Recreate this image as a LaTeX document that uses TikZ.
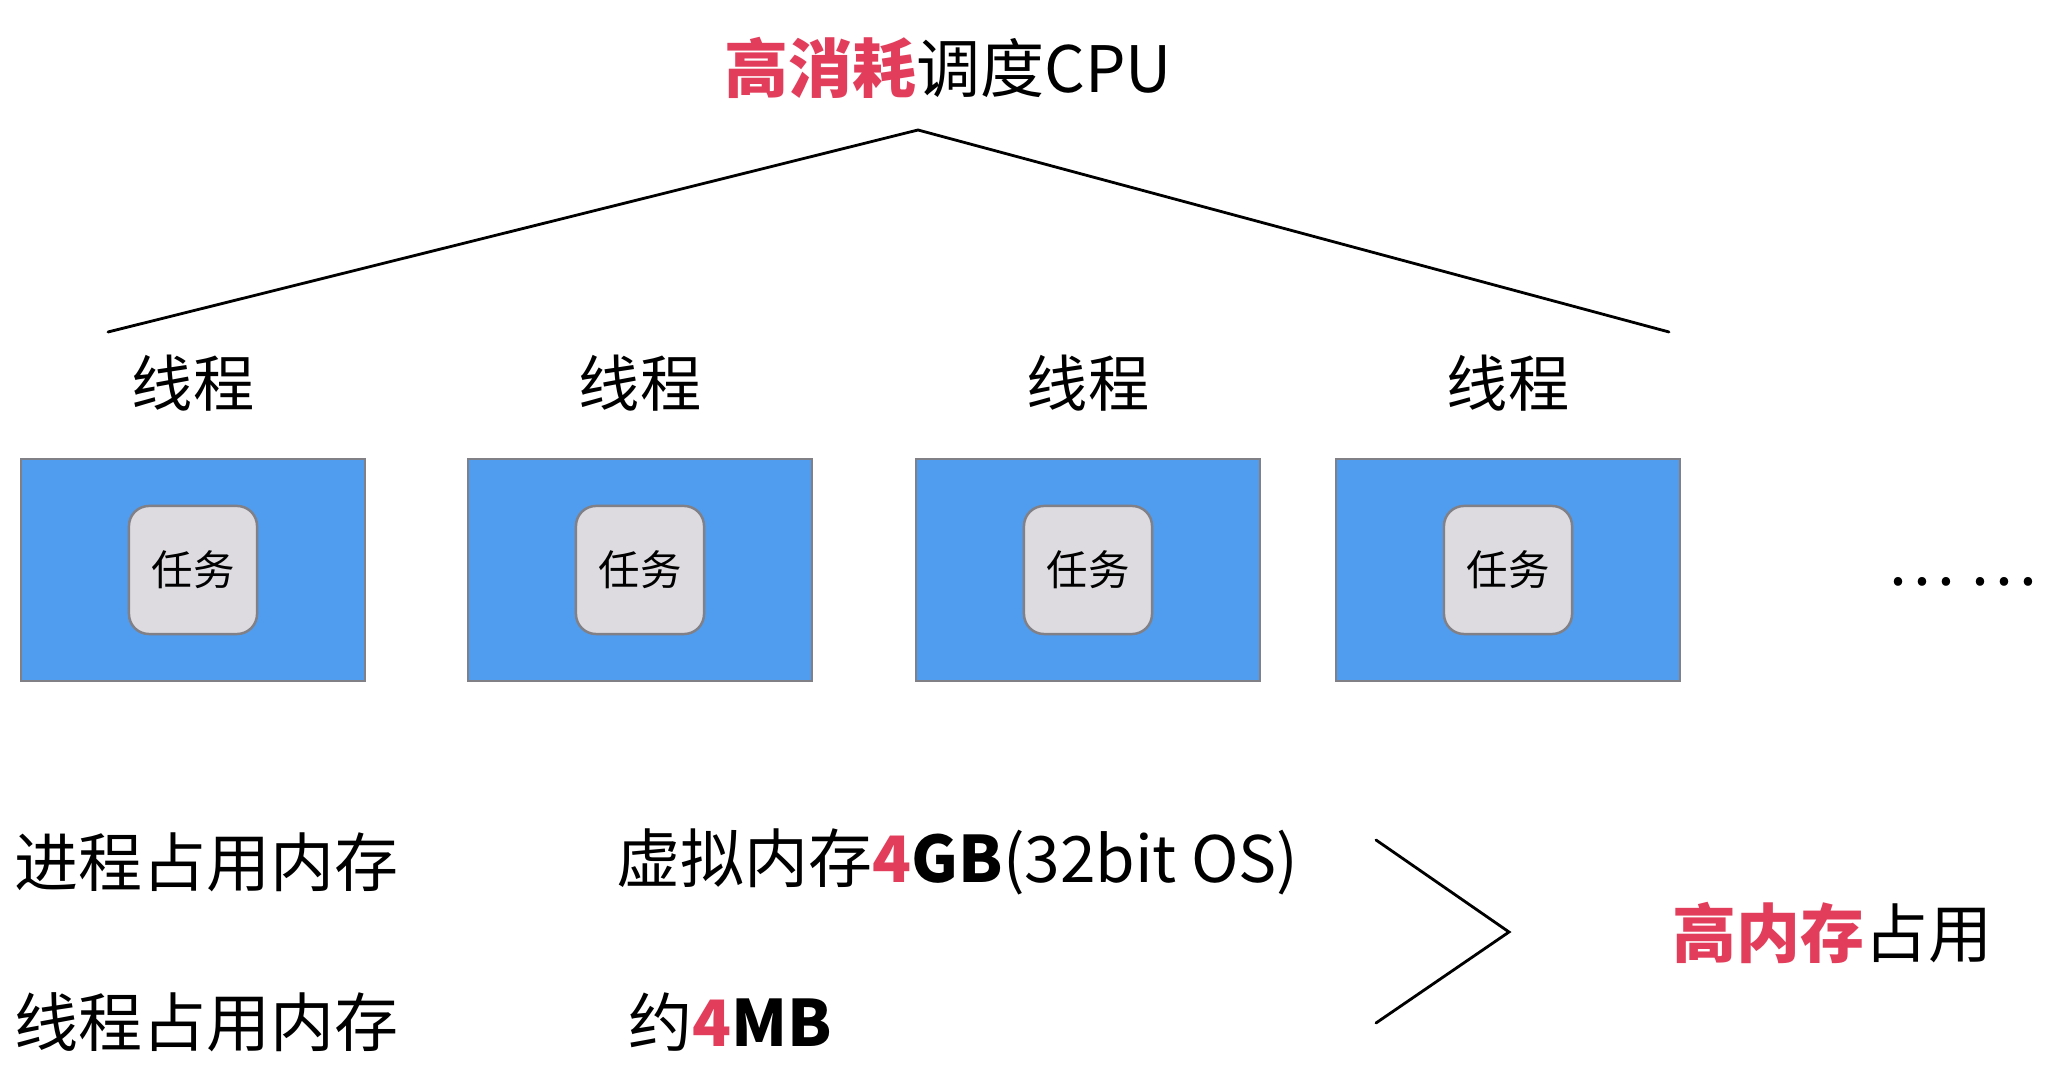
\documentclass[tikz,border=0pt]{standalone}
\usepackage{fontspec}
\setmainfont{Noto Sans CJK SC}
\usetikzlibrary{positioning}
\definecolor{hot}{RGB}{226,62,92}
\definecolor{threadbg}{RGB}{80,156,239}
\definecolor{taskbg}{RGB}{221,219,224}
\definecolor{rim}{RGB}{128,128,134}
\tikzset{
  thread/.style={rectangle, draw=rim, fill=threadbg, line width=0.6pt, minimum width=34.4mm, minimum height=22.2mm, inner sep=0pt},
  task/.style={rectangle, rounded corners=2mm, draw=rim, fill=taskbg, line width=0.7pt, minimum size=12.8mm, inner sep=0pt, font=\fontsize{11.8}{13}\selectfont},
  tname/.style={inner sep=0pt, font=\fontsize{17.4}{20}\selectfont},
  big/.style={inner sep=0pt, font=\fontsize{18.2}{21}\selectfont},
  link/.style={line width=0.8pt, line cap=round, line join=miter},
}
\begin{document}
\begin{tikzpicture}[x=0.01cm, y=-0.01cm]
\useasboundingbox (0,0) rectangle (2049,1092);
% cpu at the top
\node[big] (cpu) at (948,68) {\textcolor{hot}{\bfseries 高消耗}调度CPU};
\coordinate (apex) at (918,130);
\coordinate (lend) at (108,332);
\coordinate (rend) at (1669,332);
\draw[link] (lend) -- (apex) -- (rend);

% threads
\node[tname] (n1) at (193,383) {线程};
\node[tname] (n2) at (640,383) {线程};
\node[tname] (n3) at (1088,383) {线程};
\node[tname] (n4) at (1508,383) {线程};
\node[thread] (t1) at (193,570) {};
\node[thread] (t2) at (640,570) {};
\node[thread] (t3) at (1088,570) {};
\node[thread] (t4) at (1508,570) {};
\node[task] (k1) at (t1) {任务};
\node[task] (k2) at (t2) {任务};
\node[task] (k3) at (t3) {任务};
\node[task] (k4) at (t4) {任务};
\node[big, anchor=base] (more) at (1962,586) {… …};

% memory
\node[big, anchor=west] (pmem) at (14,862) {进程占用内存};
\node[big, anchor=west] (tmem) at (14,1022) {线程占用内存};
\node[big, anchor=west] (pval) at (616,862) {虚拟内存\textcolor{hot}{\bfseries 4}\textbf{GB}(32bit OS)};
\node[big, anchor=west] (tval) at (628,1022) {约\textcolor{hot}{\bfseries 4}\textbf{MB}};
\coordinate (ctop) at (1376,840);
\coordinate (ctip) at (1509,932);
\coordinate (cbot) at (1376,1023);
\draw[link] (ctop) -- (ctip) -- (cbot);
\node[big, anchor=west] (high) at (1672,933) {\textcolor{hot}{\bfseries 高内存}占用};
\end{tikzpicture}
\end{document}
